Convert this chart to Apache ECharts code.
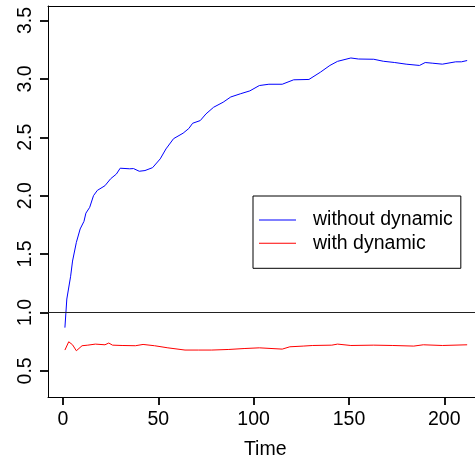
<!DOCTYPE html>
<html>
<head>
<meta charset="utf-8">
<script src="https://cdn.jsdelivr.net/npm/echarts@6/dist/echarts.min.js"></script>
<style>html,body{margin:0;padding:0;background:#fff}#c{width:475px;height:457px}</style>
</head>
<body>
<div id="c"></div>
<script>
var xTicks = [0, 50, 100, 150, 200];
var yTicks = [0.5, 1.0, 1.5, 2.0, 2.5, 3.0, 3.5];
var seriesNames = ['without dynamic', 'with dynamic'];
var timeWithout = [1, 2, 4, 5, 7, 9, 11, 12, 14, 16, 18, 22, 25, 28, 30, 35, 37, 40, 43, 47, 51, 54, 58, 63, 66, 68, 72, 75, 79, 84, 88, 93, 98, 103, 108, 115, 121, 129, 135, 140, 144, 151, 155, 163, 168, 174, 180, 187, 190, 194, 199, 206, 209, 212];
var valWithout = [0.87, 1.115, 1.31, 1.44, 1.60, 1.715, 1.78, 1.85, 1.90, 2.00, 2.045, 2.085, 2.145, 2.185, 2.235, 2.23, 2.232, 2.209, 2.215, 2.24, 2.315, 2.40, 2.488, 2.535, 2.575, 2.62, 2.643, 2.70, 2.757, 2.80, 2.845, 2.872, 2.897, 2.943, 2.954, 2.954, 2.992, 2.995, 3.057, 3.115, 3.15, 3.179, 3.170, 3.168, 3.151, 3.14, 3.126, 3.115, 3.14, 3.134, 3.126, 3.146, 3.146, 3.157];
var timeWith = [1, 3, 5, 7, 8, 10, 13, 17, 22, 24, 26, 31, 38, 42, 48, 55, 64, 71, 78, 87, 95, 103, 115, 119, 126, 131, 141, 144, 151, 163, 173, 184, 189, 199, 212];
var valWith = [0.678, 0.749, 0.723, 0.672, 0.68, 0.715, 0.72, 0.729, 0.723, 0.738, 0.72, 0.717, 0.715, 0.726, 0.715, 0.697, 0.678, 0.678, 0.678, 0.683, 0.691, 0.697, 0.686, 0.706, 0.712, 0.717, 0.72, 0.729, 0.717, 0.72, 0.717, 0.712, 0.723, 0.717, 0.723];

function pairs(t, v) { return t.map(function (x, i) { return [x, v[i]]; }); }

var FONT = 'Liberation Sans';
var XMIN = -7.87, XMAX = 220;
var chart = echarts.init(document.getElementById('c'), null, { renderer: 'canvas' });
chart.setOption({
  animation: false,
  backgroundColor: '#fff',
  textStyle: { fontFamily: FONT, color: '#000' },
  grid: { left: 48, top: 6, bottom: 60, right: -7.4, show: false,
          containLabel: false, outerBoundsMode: 'none' },
  xAxis: [{
    type: 'value', min: XMIN, max: XMAX, position: 'bottom',
    name: 'Time', nameLocation: 'middle', nameGap: 43,
    nameTextStyle: { fontFamily: FONT, fontSize: 19.5, color: '#000' },
    axisLine: { show: true, onZero: false, lineStyle: { color: '#000', width: 1 } },
    splitLine: { show: false },
    axisTick: { show: true, length: 8, lineStyle: { color: '#000', width: 1.8 }, customValues: xTicks },
    axisLabel: { show: true, fontFamily: FONT, fontSize: 19.5, color: '#000', margin: 13, customValues: xTicks }
  }, {
    type: 'value', min: XMIN, max: XMAX, position: 'top',
    axisLine: { show: true, onZero: false, lineStyle: { color: '#000', width: 1 } },
    splitLine: { show: false }, axisTick: { show: false }, axisLabel: { show: false }
  }],
  yAxis: {
    type: 'value', min: 0.276, max: 3.624,
    axisLine: { show: true, onZero: false, lineStyle: { color: '#000', width: 1 } },
    splitLine: { show: false },
    axisTick: { show: true, length: 8, lineStyle: { color: '#000', width: 1.8 }, customValues: yTicks },
    axisLabel: { show: true, fontFamily: FONT, fontSize: 19.5, color: '#000', margin: 12, rotate: 90, customValues: yTicks,
      formatter: function (v) { return v.toFixed(1); } }
  },
  legend: {
    orient: 'vertical', left: 253, top: 196,
    padding: [14, 8, 15, 6], itemGap: 3.3,
    itemWidth: 37, itemHeight: 1, icon: 'rect',
    borderColor: '#000', borderWidth: 1, backgroundColor: '#fff',
    textStyle: { fontFamily: FONT, fontSize: 19.5, lineHeight: 20, color: '#000', padding: [0, 0, 0, 12] },
    data: seriesNames
  },
  series: [
    {
      name: seriesNames[0], type: 'line', data: pairs(timeWithout, valWithout),
      symbol: 'none', lineStyle: { color: '#0000ff', width: 1 }, itemStyle: { color: '#0000ff' },
      markLine: { silent: true, symbol: 'none', label: { show: false }, lineStyle: { color: '#222', width: 1, type: 'solid' }, data: [{ yAxis: 1 }] }
    },
    {
      name: seriesNames[1], type: 'line', data: pairs(timeWith, valWith),
      symbol: 'none', lineStyle: { color: '#ff0000', width: 1 }, itemStyle: { color: '#ff0000' }
    }
  ]
});
</script>
</body>
</html>
